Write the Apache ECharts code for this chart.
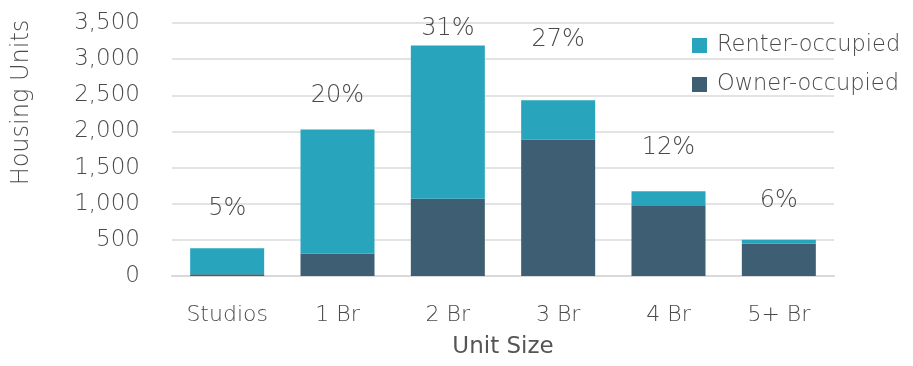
<!DOCTYPE html>
<html>
<head>
<meta charset="utf-8">
<script src="https://cdn.jsdelivr.net/npm/echarts@6/dist/echarts.min.js"></script>
<style>
  html, body { margin: 0; padding: 0; background: #fff; }
  #chart { width: 913px; height: 366px; }
</style>
</head>
<body>
<div id="chart"></div>
<script>
// Housing units by unit size, split by tenure
const unitSizes = ['Studios', '1 Br', '2 Br', '3 Br', '4 Br', '5+ Br'];
const ownerOccupied = [25, 310, 1070, 1890, 980, 445];
const renterOccupied = [358, 1717, 2120, 542, 194, 55];
const shareLabels = ['5%', '20%', '31%', '27%', '12%', '6%'];
const yTicks = { min: 0, max: 3500, interval: 500 };

// gap between each bar top and its share label (styling only)
const shareLabelLift = [28, 22, 5, 48, 31, 27];

const FONT = "'DejaVu Sans', sans-serif";
const TEXT = '#4a4a4a';
const TEAL = '#28a4bc';
const SLATE = '#3e5e73';

const chart = echarts.init(document.getElementById('chart'), null, { renderer: 'canvas' });

chart.setOption({
  animation: false,
  textStyle: { fontFamily: FONT, color: TEXT },
  grid: { left: 172, right: 79, top: 23, bottom: 90, containLabel: false },
  legend: {
    orient: 'vertical',
    left: 692,
    top: 34,
    padding: 0,
    itemWidth: 15,
    itemHeight: 15,
    itemGap: 16,
    icon: 'rect',
    data: ['Renter-occupied', 'Owner-occupied'],
    textStyle: { fontFamily: FONT, fontSize: 22.5, color: TEXT, fontWeight: 300, padding: [0, 0, 0, 5] }
  },
  xAxis: {
    type: 'category',
    data: unitSizes,
    name: 'Unit Size',
    nameLocation: 'middle',
    nameGap: 60,
    nameTextStyle: { fontFamily: FONT, fontSize: 23, color: '#555' },
    axisLine: { show: true, lineStyle: { color: '#d9d9d9', width: 2 } },
    axisTick: { show: false },
    axisLabel: { fontFamily: FONT, fontSize: 22, color: TEXT, fontWeight: 300, margin: 28 }
  },
  yAxis: {
    type: 'value',
    min: yTicks.min,
    max: yTicks.max,
    interval: yTicks.interval,
    name: 'Housing Units',
    nameLocation: 'middle',
    nameGap: 138,
    nameRotate: 90,
    nameTextStyle: { fontFamily: FONT, fontSize: 24, color: TEXT, fontWeight: 300, padding: [0, 0, 0, 94] },
    axisLine: { show: false },
    axisTick: { show: false },
    splitLine: { lineStyle: { color: '#e3e3e3', width: 2 } },
    axisLabel: {
      fontFamily: FONT, fontSize: 23, color: TEXT, fontWeight: 300, margin: 32,
      formatter: v => v.toLocaleString('en-US')
    }
  },
  series: [
    {
      name: 'Owner-occupied',
      type: 'bar',
      stack: 'units',
      barWidth: 74,
      itemStyle: { color: SLATE },
      data: ownerOccupied
    },
    {
      name: 'Renter-occupied',
      type: 'bar',
      stack: 'units',
      barWidth: 74,
      itemStyle: { color: TEAL },
      data: renterOccupied.map((v, i) => ({
        value: v,
        label: {
          show: true,
          position: 'top',
          distance: shareLabelLift[i],
          formatter: shareLabels[i],
          fontFamily: FONT,
          fontSize: 24,
          fontWeight: 300,
          color: TEXT
        }
      }))
    }
  ]
});
</script>
</body>
</html>
